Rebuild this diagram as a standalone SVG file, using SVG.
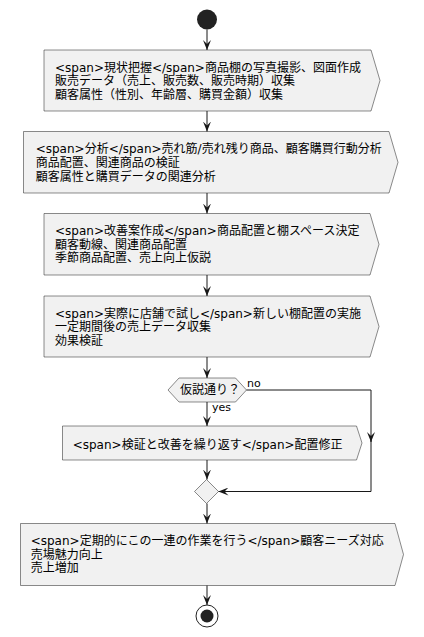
<svg xmlns="http://www.w3.org/2000/svg" width="424" height="637" viewBox="0 0 424 637">
<style>
.box{fill:#F1F1F1;stroke:#181818;stroke-width:0.5}
.t{font-family:"DejaVu Sans","Noto Sans CJK JP",sans-serif;font-size:12px;fill:#000}
.l{font-family:"DejaVu Sans","Noto Sans CJK JP",sans-serif;font-size:11px;fill:#000}
.c{fill:none;stroke:#181818;stroke-width:1}
</style>
<defs>
<marker id="ah" viewBox="0 0 10 8" refX="10" refY="4" markerWidth="10" markerHeight="8" markerUnits="userSpaceOnUse" orient="auto">
<path d="M0,0 L10,4 L0,8 L4,4 Z" fill="#181818"/>
</marker>
</defs>
<rect width="424" height="637" fill="#FFFFFF"/>
<g id="start"><circle cx="207" cy="19.5" r="10" fill="#222222"/></g>
<g id="n1">
<path class="box" d="M44,50 H371 L380,80.5 L371,111 H44 Z"/>
<text class="t" x="55" y="71.5">&lt;span&gt;現状把握&lt;/span&gt;商品棚の写真撮影、図面作成</text>
<text class="t" x="55" y="85.3">販売データ（売上、販売数、販売時期）収集</text>
<text class="t" x="55" y="99.1">顧客属性（性別、年齢層、購買金額）収集</text>
</g>
<g id="n2">
<path class="box" d="M23.5,131.5 H389 L398,162.3 L389,193 H23.5 Z"/>
<text class="t" x="35.7" y="153">&lt;span&gt;分析&lt;/span&gt;売れ筋/売れ残り商品、顧客購買行動分析</text>
<text class="t" x="35.7" y="166.8">商品配置、関連商品の検証</text>
<text class="t" x="35.7" y="180.6">顧客属性と購買データの関連分析</text>
</g>
<g id="n3">
<path class="box" d="M44,213.5 H370 L379,244.3 L370,275 H44 Z"/>
<text class="t" x="55" y="234.8">&lt;span&gt;改善案作成&lt;/span&gt;商品配置と棚スペース決定</text>
<text class="t" x="55" y="248.6">顧客動線、関連商品配置</text>
<text class="t" x="55" y="262.4">季節商品配置、売上向上仮説</text>
</g>
<g id="n4">
<path class="box" d="M44,296 H370 L379,326.5 L370,357 H44 Z"/>
<text class="t" x="55" y="317.5">&lt;span&gt;実際に店舗で試し&lt;/span&gt;新しい棚配置の実施</text>
<text class="t" x="55" y="331.3">一定期間後の売上データ収集</text>
<text class="t" x="55" y="345.1">効果検証</text>
</g>
<g id="d1">
<path class="box" d="M168,390 L179,378 H235.5 L246.5,390 L235.5,402 H179 Z"/>
<text class="t" x="180" y="394">仮説通り？</text>
</g>
<g id="n5">
<path class="box" d="M62.5,426 H356.5 L362,443 L356.5,460 H62.5 Z"/>
<text class="t" x="72.7" y="448.5">&lt;span&gt;検証と改善を繰り返す&lt;/span&gt;配置修正</text>
</g>
<g id="merge"><path class="box" d="M206.5,479.5 L218.5,491.5 L206.5,503.5 L194.5,491.5 Z"/></g>
<g id="n6">
<path class="box" d="M20.5,523.5 H395 L403.5,554.5 L395,585.5 H20.5 Z"/>
<text class="t" x="30.7" y="544.8">&lt;span&gt;定期的にこの一連の作業を行う&lt;/span&gt;顧客ニーズ対応</text>
<text class="t" x="30.7" y="558.6">売場魅力向上</text>
<text class="t" x="30.7" y="572.4">売上増加</text>
</g>
<g id="stop">
<circle cx="207" cy="616" r="11" fill="none" stroke="#222222" stroke-width="1"/>
<circle cx="207" cy="616" r="6.5" fill="#222222"/>
</g>
<g id="connectors">
<path class="c" d="M207,29.5 V50" marker-end="url(#ah)"/>
<path class="c" d="M207,111 V131.5" marker-end="url(#ah)"/>
<path class="c" d="M207,193 V213.5" marker-end="url(#ah)"/>
<path class="c" d="M207,275 V296" marker-end="url(#ah)"/>
<path class="c" d="M207,357 V378" marker-end="url(#ah)"/>
<path class="c" d="M207,402 V426" marker-end="url(#ah)"/>
<text class="l" x="212" y="411">yes</text>
<path class="c" d="M246.5,390 H371 V442" marker-end="url(#ah)"/>
<path class="c" d="M371,440 V491.5 H218.5" marker-end="url(#ah)"/>
<text class="l" x="247" y="387">no</text>
<path class="c" d="M207,460 V479.5" marker-end="url(#ah)"/>
<path class="c" d="M207,503.5 V523.5" marker-end="url(#ah)"/>
<path class="c" d="M207,585.5 V605" marker-end="url(#ah)"/>
</g>
</svg>
